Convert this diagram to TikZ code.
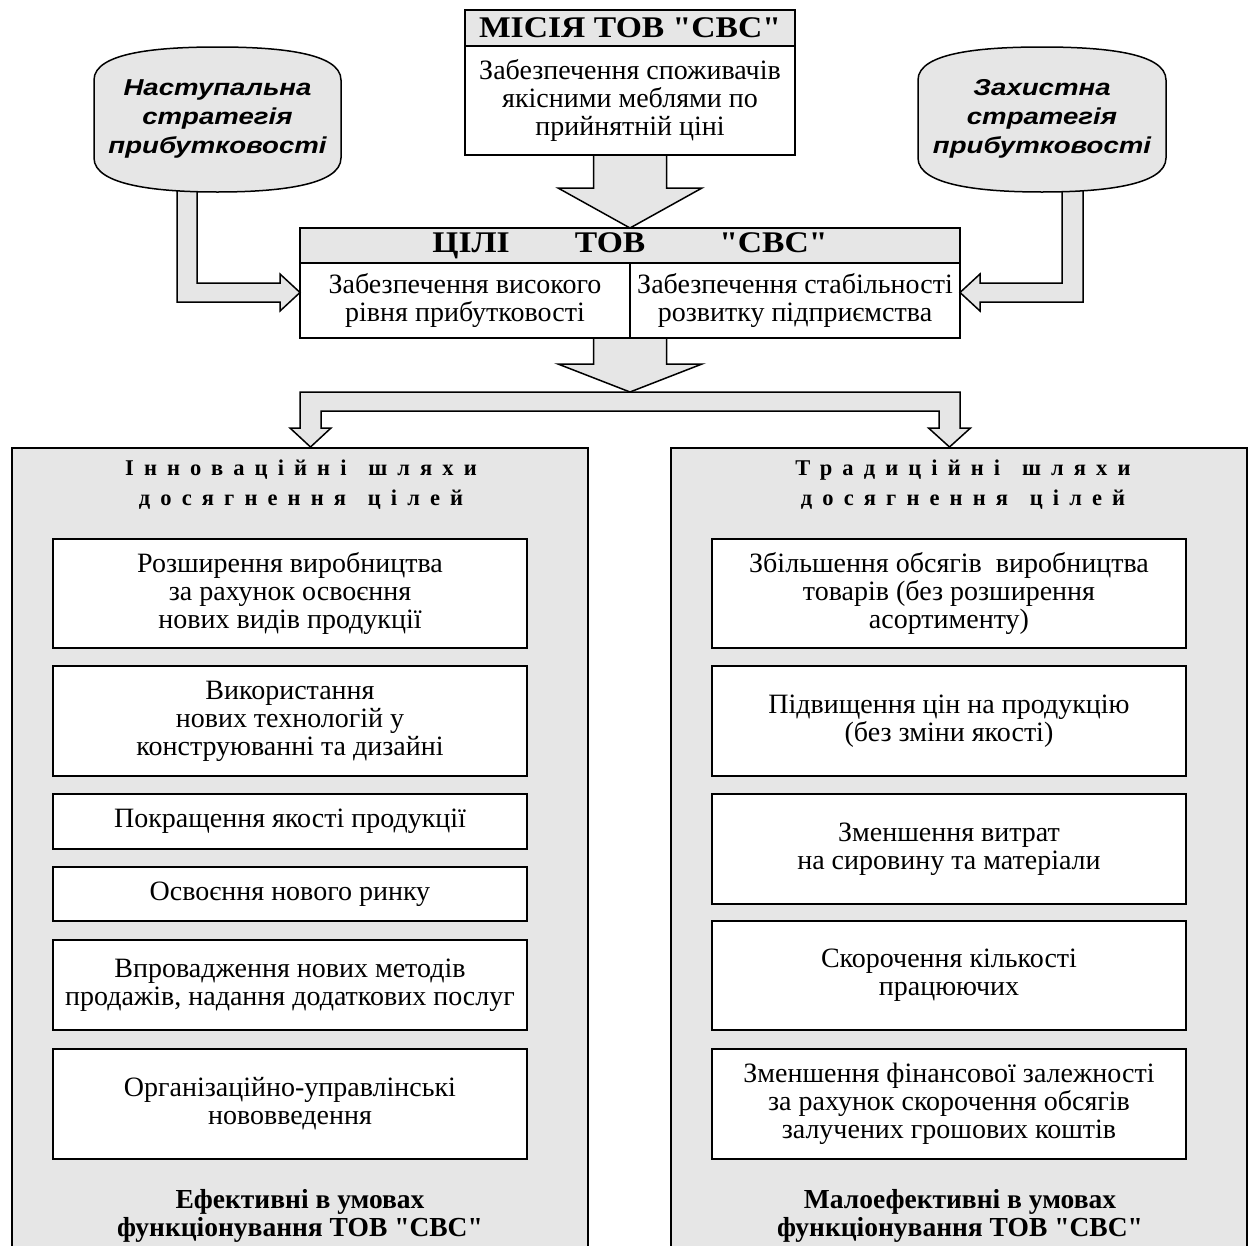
\documentclass[tikz,border=0pt]{standalone}
\usepackage{fontspec}
\newfontfamily\tnr{Liberation Serif}
\newfontfamily\tnrwide{Liberation Serif}[FakeStretch=1.12]
\newfontfamily\arialwide{Liberation Sans}[FakeStretch=1.2]
\newfontfamily\spacedfont{Liberation Serif}[LetterSpace=45]
\usetikzlibrary{calc}
\definecolor{panelgray}{RGB}{230,230,230}
\tikzset{
  every node/.style={inner sep=0pt, outer sep=0pt},
  box/.style={draw=black, line width=1.7pt, fill=white, align=center, font=\tnr\fontsize{28}{28}\selectfont},
  hdr/.style={draw=black, line width=1.7pt, fill=panelgray, align=center, font=\tnrwide\bfseries\fontsize{30}{32}\selectfont},
  blockarrow/.style={draw=black, line width=1.5pt, fill=panelgray, line join=miter},
  panel/.style={draw=black, line width=1.7pt, fill=panelgray},
  strat/.style={align=center, font=\arialwide\bfseries\itshape\fontsize{23}{29}\selectfont},
  ptitle/.style={align=center, font=\spacedfont\bfseries\fontsize{22.5}{30}\selectfont},
  pfoot/.style={align=center, font=\tnr\bfseries\fontsize{27.5}{28}\selectfont},
}
\begin{document}
\begin{tikzpicture}[x=1pt,y=-1pt]
\useasboundingbox (0,0) rectangle (1249,1245);
\clip (0,0) rectangle (1249,1245);
\fill[white] (0,0) rectangle (1249,1245);

% lower panels
\node[panel, minimum width=576, minimum height=830, anchor=north west] (panL) at (12,448) {};
\node[panel, minimum width=576, minimum height=830, anchor=north west] (panR) at (671,448) {};
\node[ptitle] (panLt) at (301,485) {Інноваційні\hspace{6pt} шляхи\\досягнення\hspace{6pt} цілей};
\node[ptitle] (panRt) at (963,485) {Традиційні\hspace{6pt} шляхи\\досягнення\hspace{6pt} цілей};

% left boxes
\node[box, minimum width=474, minimum height=109] (L1) at (290,593.5) {Розширення виробництва\\за рахунок освоєння\\нових видів продукції};
\node[box, minimum width=474, minimum height=110] (L2) at (290,721) {Використання\\нових технологій у\\конструюванні та дизайні};
\node[box, minimum width=474, minimum height=55] (L3) at (290,821.5) {Покращення якості продукції};
\node[box, minimum width=474, minimum height=54] (L4) at (290,894) {Освоєння нового ринку};
\node[box, minimum width=474, minimum height=90] (L5) at (290,985) {Впровадження нових методів\\продажів, надання додаткових послуг};
\node[box, minimum width=474, minimum height=110] (L6) at (290,1104) {Організаційно-управлінські\\нововведення};
% right boxes
\node[box, minimum width=474, minimum height=109] (R1) at (949,593.5) {Збільшення обсягів\ \ виробництва\\товарів (без розширення\\асортименту)};
\node[box, minimum width=474, minimum height=110] (R2) at (949,721) {Підвищення цін на продукцію\\(без зміни якості)};
\node[box, minimum width=474, minimum height=110] (R3) at (949,849) {Зменшення витрат\\на сировину та матеріали};
\node[box, minimum width=474, minimum height=109] (R4) at (949,975.5) {Скорочення кількості\\працюючих};
\node[box, minimum width=474, minimum height=110] (R5) at (949,1104) {Зменшення фінансової залежності\\за рахунок скорочення обсягів\\залучених грошових коштів};

\node[pfoot] (footL) at (300,1216) {Ефективні в умовах\\функціонування ТОВ "СВС"};
\node[pfoot] (footR) at (960,1216) {Малоефективні в умовах\\функціонування ТОВ "СВС"};

% mission
\node[hdr, minimum width=330, minimum height=36] (misH) at (630,28) {МІСІЯ ТОВ "СВС"};
\node[box, minimum width=330, minimum height=109] (misB) at (630,100.5) {Забезпечення споживачів\\якісними меблями по\\прийнятній ціні};

% goals
\node[hdr, minimum width=660, minimum height=35] (goalH) at (630,245.5) {ЦІЛІ\hspace{65pt}ТОВ\hspace{74pt}"СВС"};
\node[box, minimum width=330, minimum height=75] (goalL) at (465,300.5) {Забезпечення високого\\рівня прибутковості};
\node[box, minimum width=330, minimum height=75] (goalR) at (795,300.5) {Забезпечення стабільності\\розвитку підприємства};

% mission -> goals arrow
\draw[blockarrow] ($(misB.south)+(-36.5,0)$) -- ++(0,33) -- ++(-35.5,0) -- (goalH.north)
  -- ($(misB.south)+(72,33)$) -- ++(-35.5,0) -- ($(misB.south)+(36.5,0)$) -- cycle;

% goals -> branch arrow
\coordinate (barTop) at (630,392);
\draw[blockarrow] ($(goalL.south east)+(-36.5,0)$) -- ++(0,26) -- ++(-35.5,0) -- (barTop)
  -- ($(goalL.south east)+(72,26)$) -- ++(-35.5,0) -- ($(goalL.south east)+(36.5,0)$) -- cycle;

% branch arrow to panels
\coordinate (tipL) at (310.5,447);
\coordinate (tipR) at (949.5,447);
\draw[blockarrow] (300,428) -- (300,392) -- (960,392) -- (960,428) -- (970.5,428) -- (tipR)
  -- (928.5,428) -- (939,428) -- (939,411) -- (321,411) -- (321,428) -- (331,428) -- (tipL)
  -- (290,428) -- cycle;

% strategy arrows
\coordinate (tipSL) at (goalL.west |- 0,292.5);
\coordinate (tipSR) at (goalR.east |- 0,292.5);
\draw[blockarrow] (177,180) -- (177,302) -- (280,302) -- (280,311) -- (tipSL) -- (280,274)
  -- (280,283) -- (197,283) -- (197,180) -- cycle;
\draw[blockarrow] (1083,180) -- (1083,302) -- (980,302) -- (980,311) -- (tipSR) -- (980,274)
  -- (980,283) -- (1062,283) -- (1062,180) -- cycle;

% strategy ovals
\draw[blockarrow] (94,80) .. controls (94,52) and (160,47) .. (217.5,47) .. controls (275,47) and (341,52) .. (341,80)
  -- (341,158) .. controls (341,186) and (275,192) .. (217.5,192) .. controls (160,192) and (94,186) .. (94,158) -- cycle;
\draw[blockarrow] (918,80) .. controls (918,52) and (984,47) .. (1042,47) .. controls (1100,47) and (1166,52) .. (1166,80)
  -- (1166,158) .. controls (1166,186) and (1100,192) .. (1042,192) .. controls (984,192) and (918,186) .. (918,158) -- cycle;
\node[strat] (stratL) at (217.5,119) {Наступальна\\стратегія\\прибутковості};
\node[strat] (stratR) at (1042,119) {Захистна\\стратегія\\прибутковості};
\end{tikzpicture}
\end{document}
